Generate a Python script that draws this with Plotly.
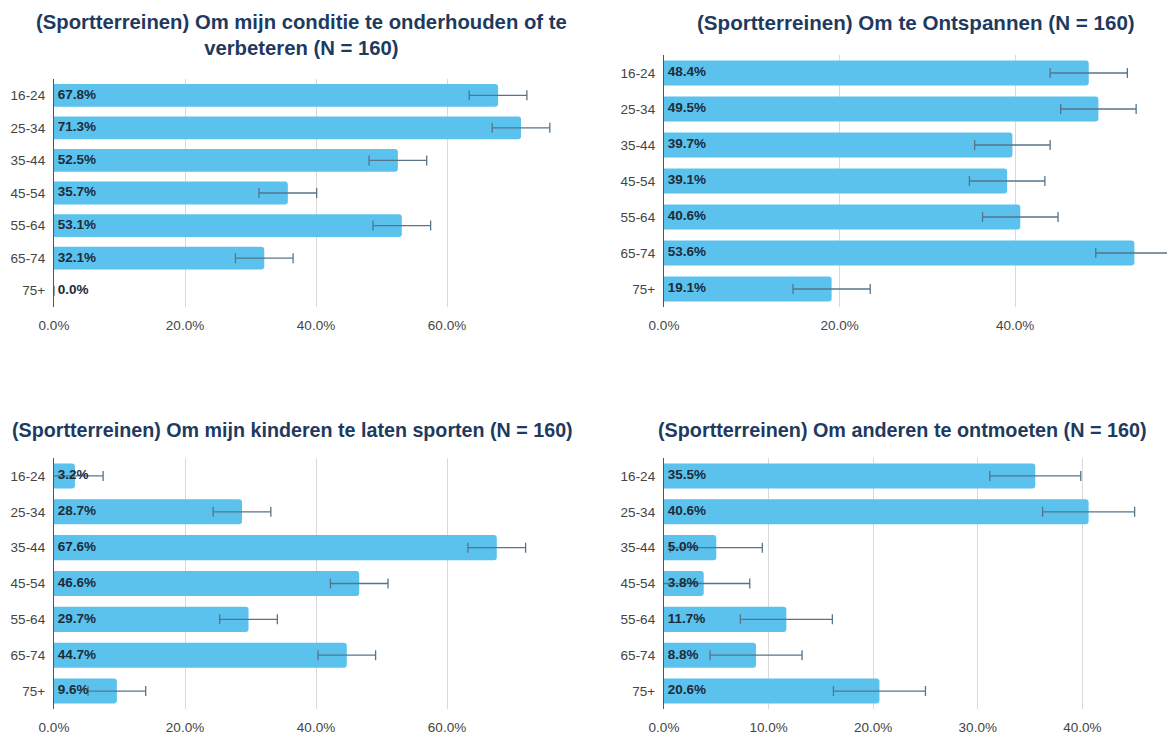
import plotly.graph_objects as go

categories = ["16-24", "25-34", "35-44", "45-54", "55-64", "65-74", "75+"]

conditie = [67.8, 71.3, 52.5, 35.7, 53.1, 32.1, 0.0]
conditie_err = [4.4, 4.4, 4.4, 4.4, 4.4, 4.4, 0.0]
ontspannen = [48.4, 49.5, 39.7, 39.1, 40.6, 53.6, 19.1]
ontspannen_err = [4.4, 4.3, 4.3, 4.3, 4.3, 4.4, 4.4]
kinderen = [3.2, 28.7, 67.6, 46.6, 29.7, 44.7, 9.6]
kinderen_err = [4.3, 4.4, 4.4, 4.4, 4.4, 4.4, 4.4]
ontmoeten = [35.5, 40.6, 5.0, 3.8, 11.7, 8.8, 20.6]
ontmoeten_err = [4.35, 4.4, 4.4, 4.4, 4.4, 4.4, 4.4]

titles = [
    "(Sportterreinen) Om mijn conditie te onderhouden of te<br>verbeteren (N = 160)",
    "(Sportterreinen) Om te Ontspannen (N = 160)",
    "(Sportterreinen) Om mijn kinderen te laten sporten (N = 160)",
    "(Sportterreinen) Om anderen te ontmoeten (N = 160)",
]

OFF = 8  # page body margin
W, H = 1175 - OFF, 739 - OFF
BAR = "#5BC2EE"
ERR = "#55758B"
TITLE = "#1E3A5F"
FONT = "Liberation Sans, Arial, sans-serif"

panels = [
    dict(vals=conditie, err=conditie_err, x0=54, x1=578, yt=79, yb=307, xmax=80,
         ticks=[0, 20, 40, 60, 80], last=False, tx=301, ty=35, ts=20.3),
    dict(vals=ontspannen, err=ontspannen_err, x0=664, x1=1173, yt=55, yb=307, xmax=58,
         ticks=[0, 20, 40], last=True, tx=916, ty=22, ts=20.6),
    dict(vals=kinderen, err=kinderen_err, x0=54, x1=578, yt=458, yb=709, xmax=80,
         ticks=[0, 20, 40, 60, 80], last=False, tx=292, ty=430, ts=19.7),
    dict(vals=ontmoeten, err=ontmoeten_err, x0=664, x1=1166, yt=458, yb=709, xmax=48,
         ticks=[0, 10, 20, 30, 40], last=True, tx=902, ty=430, ts=19.8),
]

def px(v):
    return (v - OFF) / W

def py(v):
    return 1 - (v - OFF) / H

fig = go.Figure()
layout = dict(
    width=W, height=H, margin=dict(l=0, r=0, t=0, b=0, autoexpand=False),
    paper_bgcolor="white", plot_bgcolor="white", showlegend=False,
    bargap=0.3, font=dict(family=FONT, size=13, color="#444444"),
)
annotations = []
for i, p in enumerate(panels, start=1):
    xa = "x" if i == 1 else f"x{i}"
    ya = "y" if i == 1 else f"y{i}"
    fig.add_trace(go.Bar(
        x=p["vals"], y=categories, orientation="h", xaxis=xa, yaxis=ya,
        marker=dict(color=BAR, cornerradius=3, line=dict(width=0)),
        error_x=dict(type="data", array=p["err"], symmetric=True, color=ERR,
                     thickness=1.3, width=5),
        hoverinfo="skip",
    ))
    fig.add_trace(go.Scatter(
        x=[0] * len(categories), y=categories, mode="text", xaxis=xa, yaxis=ya,
        text=[f"\u00a0{v:.1f}%" for v in p["vals"]], textposition="middle right",
        textfont=dict(family=FONT, size=13.5, color="#1B2B3A", weight="bold"),
        cliponaxis=False, hoverinfo="skip",
    ))
    ticktext = [f"{t:.1f}%" for t in p["ticks"]]
    if not p["last"]:
        ticktext[-1] = ""
    layout["xaxis" if i == 1 else f"xaxis{i}"] = dict(
        domain=[px(p["x0"]), min(px(p["x1"]), 1)], range=[0, p["xmax"]], anchor=ya,
        tickvals=p["ticks"], ticktext=ticktext, showgrid=True, gridcolor="#D9D9D9",
        gridwidth=1, zeroline=False, showline=False, ticks="", ticklabelstandoff=8,
        tickfont=dict(size=13.5, color="#444444"), fixedrange=True, automargin=False,
    )
    layout["yaxis" if i == 1 else f"yaxis{i}"] = dict(
        domain=[py(p["yb"]), py(p["yt"])], anchor=xa,
        categoryorder="array", categoryarray=categories, autorange="reversed",
        showline=True, linecolor="#555555", linewidth=1.3, showgrid=False,
        ticks="", ticklabelstandoff=5, tickfont=dict(size=13.5, color="#444444"),
        fixedrange=True, automargin=False,
    )
    annotations.append(dict(
        text=titles[i - 1], x=px(p["tx"]), y=py(p["ty"]), xref="paper", yref="paper",
        xanchor="center", yanchor="middle", showarrow=False,
        font=dict(family=FONT, size=p["ts"], color=TITLE, weight="bold"),
        align="center",
    ))

layout["annotations"] = annotations
fig.update_layout(**layout)
fig.write_html("out.html")
